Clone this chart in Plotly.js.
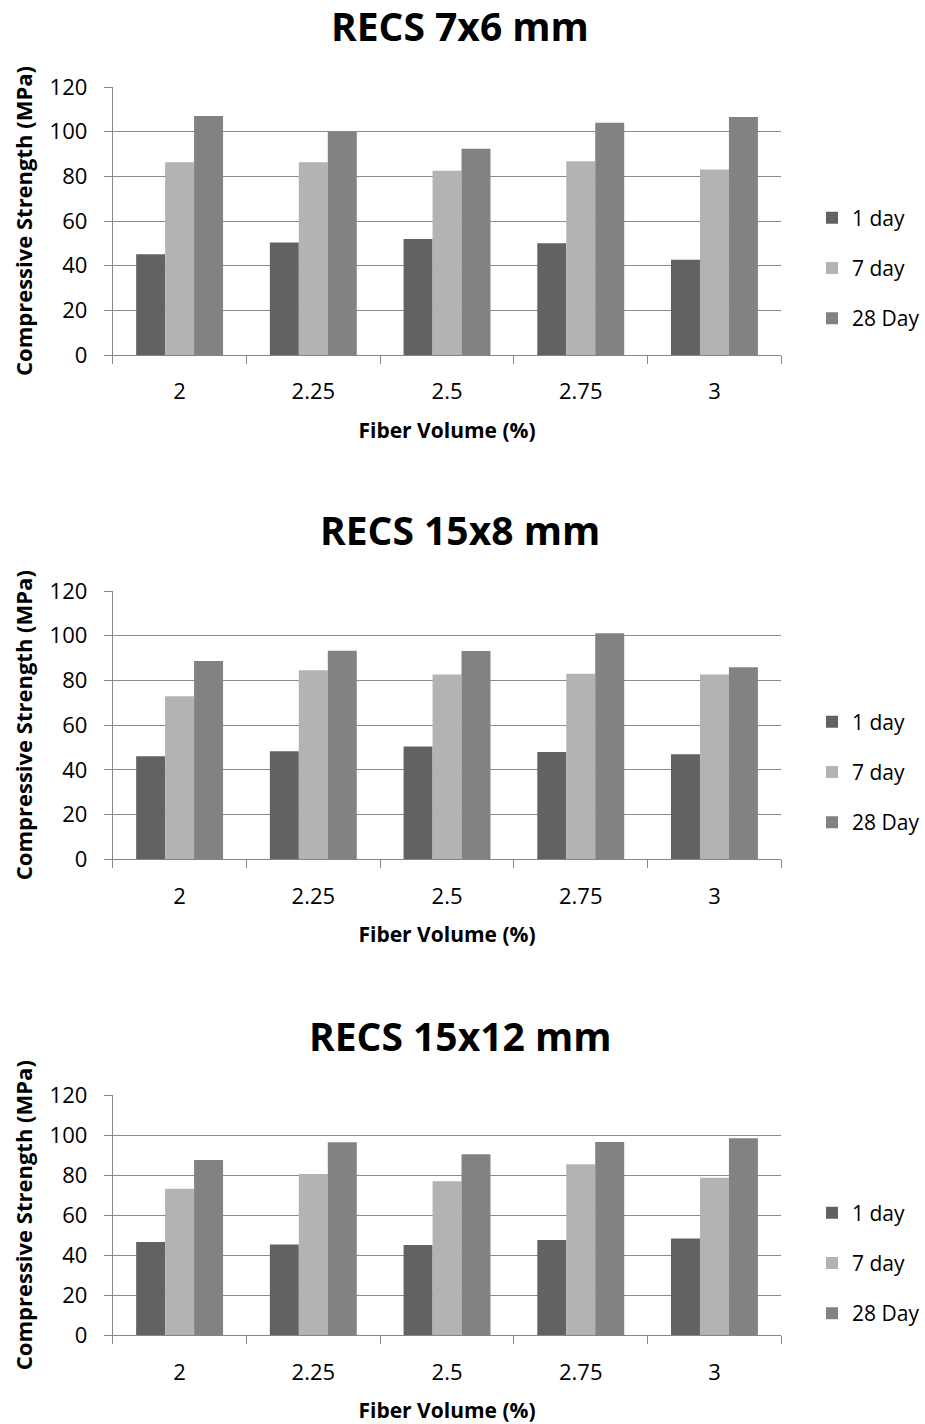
<!DOCTYPE html>
<html>
<head>
<meta charset="utf-8">
<script src="https://cdn.plot.ly/plotly-3.0.1.min.js"></script>
<style>
  html, body { margin: 0; padding: 0; background: #ffffff; }
  #chart { width: 925px; height: 1424px; }
</style>
</head>
<body>
<div id="chart"></div>
<script>
// Fiber volume fractions (%) shared by all three panels
const fiberVolume = ['2', '2.25', '2.5', '2.75', '3'];
const seriesNames = ['1 day', '7 day', '28 Day'];
const panelTitles = ['RECS 7x6 mm', 'RECS 15x8 mm', 'RECS 15x12 mm'];
const yTicks = [0, 20, 40, 60, 80, 100, 120];

// Compressive strength (MPa), RECS 7x6 mm fibers
const recs7x6Day1 = [45.1, 50.4, 51.9, 50.0, 42.7];
const recs7x6Day7 = [86.3, 86.3, 82.5, 86.7, 83.1];
const recs7x6Day28 = [107.0, 100.0, 92.4, 104.0, 106.6];

// Compressive strength (MPa), RECS 15x8 mm fibers
const recs15x8Day1 = [46.1, 48.3, 50.5, 48.0, 47.0];
const recs15x8Day7 = [72.9, 84.5, 82.7, 83.0, 82.7];
const recs15x8Day28 = [88.7, 93.3, 93.2, 101.1, 85.9];

// Compressive strength (MPa), RECS 15x12 mm fibers
const recs15x12Day1 = [46.6, 45.4, 45.1, 47.6, 48.4];
const recs15x12Day7 = [73.2, 80.5, 76.9, 85.4, 78.7];
const recs15x12Day28 = [87.5, 96.4, 90.4, 96.5, 98.4];

const panels = [
  [recs7x6Day1, recs7x6Day7, recs7x6Day28],
  [recs15x8Day1, recs15x8Day7, recs15x8Day28],
  [recs15x12Day1, recs15x12Day7, recs15x12Day28]
];

const barColors = ['#626262', '#b3b3b3', '#828282'];
const FONT = '"Open Sans", "Liberation Sans", sans-serif';
const W = 925, H = 1424;
const px = v => v / W;
const py = v => 1 - v / H;

// Plot area edges in page pixels (top = 120 MPa gridline, bottom = 0)
const plotLeft = 113, plotRight = 783;
const plotRows = [[87, 355], [591, 859.3], [1095, 1335.3]];
const titleY = [26, 530, 1035];
const legendY = [268, 772, 1263];

const traces = [];
const layout = {
  width: W,
  height: H,
  margin: { l: 0, r: 0, t: 0, b: 0 },
  paper_bgcolor: '#ffffff',
  plot_bgcolor: '#ffffff',
  font: { family: FONT, color: '#000000', size: 22 },
  barmode: 'group',
  bargap: 0.35,
  bargroupgap: 0,
  showlegend: true,
  annotations: []
};

panels.forEach((series, p) => {
  const n = p === 0 ? '' : String(p + 1);
  const legendId = 'legend' + n;
  series.forEach((vals, s) => {
    traces.push({
      type: 'bar',
      name: seriesNames[s],
      x: fiberVolume,
      y: vals,
      xaxis: 'x' + n,
      yaxis: 'y' + n,
      legend: legendId,
      legendgroup: 'g' + p + s,
      marker: { color: barColors[s], line: { width: 0 } },
      hoverinfo: 'x+y+name'
    });
  });

  const [top, bottom] = plotRows[p];
  layout['xaxis' + n] = {
    domain: [px(plotLeft), px(plotRight)],
    anchor: 'y' + n,
    type: 'category',
    showline: true,
    linecolor: '#868686',
    linewidth: 1,
    ticks: 'outside',
    tickson: 'boundaries',
    ticklen: 8,
    tickcolor: '#868686',
    tickwidth: 1,
    ticklabelstandoff: 17,
    showgrid: false,
    tickfont: { family: FONT, size: 22, color: '#000000' },
    title: {
      text: 'Fiber Volume (%)',
      font: { family: FONT, size: 21, color: '#000000', weight: 'bold' },
      standoff: 18
    }
  };
  layout['yaxis' + n] = {
    domain: [py(bottom), py(top)],
    anchor: 'x' + n,
    range: [0, 120],
    tickmode: 'array',
    tickvals: yTicks,
    showline: true,
    linecolor: '#868686',
    linewidth: 1,
    ticks: 'outside',
    ticklen: 8,
    tickcolor: '#868686',
    tickwidth: 1,
    ticklabelstandoff: 12,
    showgrid: true,
    gridcolor: '#8a8a8a',
    gridwidth: 1,
    zeroline: false,
    tickfont: { family: FONT, size: 22, color: '#000000' },
    title: {
      text: 'Compressive Strength (MPa)',
      font: { family: FONT, size: 22, color: '#000000', weight: 'bold' },
      standoff: 10
    }
  };
  layout[legendId] = {
    x: px(814),
    xanchor: 'left',
    y: py(legendY[p]),
    yanchor: 'middle',
    font: { family: FONT, size: 21, color: '#000000' },
    tracegroupgap: 20,
    bgcolor: 'rgba(0,0,0,0)',
    itemclick: false,
    itemdoubleclick: false
  };
  layout.annotations.push({
    xref: 'paper', yref: 'paper',
    x: px(461), y: py(titleY[p]),
    xanchor: 'center', yanchor: 'middle',
    text: '<b>' + panelTitles[p] + '</b>',
    showarrow: false,
    font: { family: FONT, size: 39, color: '#000000' }
  });
});

Plotly.newPlot('chart', traces, layout, { displayModeBar: false, responsive: false });
</script>
</body>
</html>
